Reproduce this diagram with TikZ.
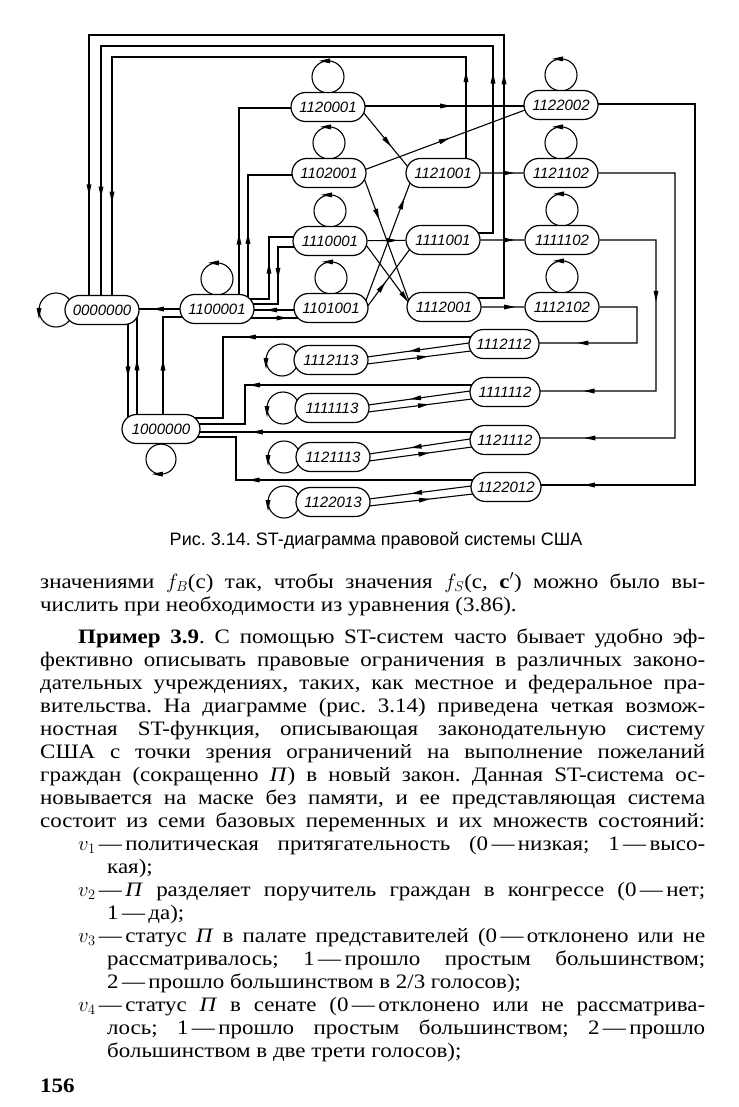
\documentclass[tikz,border=0pt]{standalone}
\usepackage{fontspec}
\setmainfont{Liberation Serif}
\newfontfamily\bodyfont[FakeStretch=1.12]{Liberation Serif}
\newfontfamily\capfont{Liberation Sans}
\newfontfamily\statefont{Liberation Sans}
\frenchspacing
\usetikzlibrary{calc, backgrounds, shapes.misc, shapes.geometric}
\tikzset{
  st state/.style={rounded rectangle, draw, fill=white, line width=1.2pt, minimum width=74pt, minimum height=29pt, inner sep=0pt, font=\statefont\itshape\fontsize{15}{15}\selectfont},
  flow/.style={line width=1.1pt},
  arrowtip/.style={isosceles triangle, isosceles triangle stretches, fill, draw=none, inner sep=0pt, minimum width=5pt, minimum height=11pt},
  arrowtip on/.style={arrowtip, sloped, allow upside down},
  text line/.style={anchor=base west, inner sep=0pt, font=\bodyfont\fontsize{20.5}{23}\selectfont},
}
\newcommand{\loopAbove}[1]{
  \draw[flow] ([yshift=15pt]#1.north) circle (16pt);
  \node[arrowtip, rotate=180] at ([yshift=31pt]#1.north) {};
}
\newcommand{\loopLeft}[1]{
  \draw[flow] ([xshift=-49pt]#1.center) circle (16pt);
  \node[arrowtip, rotate=-90] at ([xshift=-65pt]#1.center) {};
}

\begin{document}
\begin{tikzpicture}[x=1pt, y=1pt]
  \useasboundingbox (0,0) rectangle (738,-1107);
  % states
  \node[st state] (s1120001) at (328,-107) {1120001};
  \node[st state] (s1102001) at (329,-173) {1102001};
  \node[st state] (s1110001) at (330,-241) {1110001};
  \node[st state] (s1101001) at (331,-308) {1101001};
  \node[st state] (s0000000) at (102,-310) {0000000};
  \node[st state] (s1100001) at (217,-309) {1100001};
  \node[st state, minimum width=78pt] (s1000000) at (161,-429) {1000000};
  \node[st state] (s1121001) at (443,-173) {1121001};
  \node[st state] (s1111001) at (443,-240) {1111001};
  \node[st state] (s1112001) at (444,-307) {1112001};
  \node[st state] (s1122002) at (561,-105) {1122002};
  \node[st state] (s1121102) at (561,-173) {1121102};
  \node[st state] (s1111102) at (562,-240) {1111102};
  \node[st state] (s1112102) at (562,-307) {1112102};
  \node[st state, minimum width=70pt] (s1112112) at (504,-344) {1112112};
  \node[st state, minimum width=70pt] (s1111112) at (505,-392) {1111112};
  \node[st state, minimum width=70pt] (s1121112) at (505,-440) {1121112};
  \node[st state, minimum width=70pt] (s1122012) at (506,-487) {1122012};
  \node[st state] (s1112113) at (331,-360) {1112113};
  \node[st state] (s1111113) at (332,-408) {1111113};
  \node[st state] (s1121113) at (333,-457) {1121113};
  \node[st state] (s1122013) at (333,-502) {1122013};

  \begin{pgfonlayer}{background}
    % self loops
    \loopAbove{s1120001} \loopAbove{s1102001} \loopAbove{s1110001}
    \loopAbove{s1101001} \loopAbove{s1100001} \loopAbove{s1122002}
    \loopAbove{s1121102} \loopAbove{s1111102} \loopAbove{s1112102}
    \loopLeft{s1112113} \loopLeft{s1111113} \loopLeft{s1121113} \loopLeft{s1122013}
    \draw[flow] ([xshift=-46pt]s0000000.center) circle (17pt);
    \node[arrowtip, rotate=-90] at ([xshift=-63pt]s0000000.center) {};
    \draw[flow] ([yshift=-15pt]s1000000.south) circle (15pt);
    \node[arrowtip, rotate=180] at ([yshift=-30pt]s1000000.south) {};

    % long returns to 0000000
    \draw[flow] (466,0 |- s1121001.center) -- node[arrowtip on, pos=.8]{} (466,-57) -- (112,-57) -- node[arrowtip on, pos=.54]{} (112,0 |- s0000000.center);
    \draw[flow] (s1111001.center |- 0,-233) -- (493,-233) -- node[arrowtip on, pos=.81]{} (493,-46) -- (101,-46) -- node[arrowtip on, pos=.54]{} (101,0 |- s0000000.center);
    \draw[flow] (s1112001.center |- 0,-298) -- (504,-298) -- node[arrowtip on, pos=.82]{} (504,-35) -- (89,-35) -- node[arrowtip on, pos=.55]{} (89,0 |- s0000000.center);

    % around 1100001
    \draw[flow] (239,0 |- s1100001.center) -- node[arrowtip on, pos=.33]{} (239,-108) -- (s1120001.center |- 0,-108);
    \draw[flow] (248,0 |- s1100001.center) -- node[arrowtip on, pos=.5]{} (248,-175) -- (s1102001.center |- 0,-175);
    \draw[flow] (s1100001.center |- 0,-299) -- (269,-299) -- node[arrowtip on, pos=.44]{} (269,-237) -- (s1110001.center |- 0,-237);
    \draw[flow] (s1110001.center |- 0,-247) -- (278,-247) -- node[arrowtip on, pos=.4]{} (278,-304) -- (s1100001.center |- 0,-304);
    \draw[flow] (s1101001.center |- 0,-310) -- node[arrowtip on, pos=.49]{} (s1100001.center |- 0,-310);
    \draw[flow] (s1100001.center |- 0,-318) -- node[arrowtip on, pos=.54]{} (s1101001.center |- 0,-318);
    \draw[flow] (s1100001.center |- 0,-309) -- node[arrowtip on, pos=.48]{} (s0000000.center |- 0,-309);
    \draw[flow] (163,0 |- s1000000.center) -- node[arrowtip on, pos=.54]{} (163,-317) -- (s1100001.center |- 0,-317);
    \draw[flow] (128,0 |- s0000000.center) -- node[arrowtip on, pos=.49]{} (128,0 |- s1000000.center);
    \draw[flow] (137,0 |- s1000000.center) -- node[arrowtip on, pos=.51]{} (137,0 |- s0000000.center);

    % crossing block
    \draw[flow] ($(s1120001.center)+(35,-5)$) -- node[arrowtip on, pos=.5]{} ($(s1121001.center)+(-35,6)$);
    \draw[flow] ($(s1102001.center)+(35,3)$) -- node[arrowtip on, pos=.48]{} ($(s1122002.center)+(-36,-5)$);
    \draw[flow] ($(s1102001.center)+(35,-5)$) -- node[arrowtip on, pos=.27]{} ($(s1112001.center)+(-35,6)$);
    \draw[flow] (s1110001) -- node[arrowtip on, pos=.56]{} (s1111001);
    \draw[flow] ($(s1110001.center)+(36,-4)$) -- node[arrowtip on, pos=.85]{} ($(s1112001.center)+(-35,4)$);
    \draw[flow] ($(s1101001.center)+(36,1)$) -- node[arrowtip on, pos=.3]{} ($(s1111001.center)+(-33,-9)$);
    \draw[flow] ($(s1101001.center)+(34,5)$) -- node[arrowtip on, pos=.8]{} ($(s1121001.center)+(-33,-10)$);
    \draw[flow] (s1120001.center |- 0,-106) -- node[arrowtip on, pos=.49]{} (s1122002.center |- 0,-106);
    \draw[flow] (s1121001) -- node[arrowtip on, pos=.57]{} (s1121102);
    \draw[flow] (s1111001) -- node[arrowtip on, pos=.57]{} (s1111102);
    \draw[flow] (s1112001) -- node[arrowtip on, pos=.57]{} (s1112102);

    % right side down to the bottom states
    \draw[flow] (s1122002.center |- 0,-104) -- (695,-104) -- (695,-485) -- node[arrowtip on, pos=.54]{} (s1122012.center |- 0,-485);
    \draw[flow] (s1121102) -- (675,-173) -- (675,-438) -- node[arrowtip on, pos=.48]{} (s1121112.center |- 0,-438);
    \draw[flow] (s1111102) -- (656,-240) -- node[arrowtip on, pos=.35]{} (656,-391) -- node[arrowtip on, pos=.42]{} (s1111112.center |- 0,-391);
    \draw[flow] (s1112102) -- (637,-307) -- (637,-343) -- node[arrowtip on, pos=.38]{} (s1112112.center |- 0,-343);

    % bottom states back to 1000000
    \draw[flow] (s1112112.center |- 0,-337) -- node[arrowtip on, pos=.89]{} (223,-337) -- (223,-418) -- (s1000000.center |- 0,-418);
    \draw[flow] (s1111112.center |- 0,-385) -- node[arrowtip on, pos=.95]{} (245,-385) -- (245,-424) -- (s1000000.center |- 0,-424);
    \draw[flow] (s1121112.center |- 0,-432) -- node[arrowtip on, pos=.71]{} (s1000000.center |- 0,-432);
    \draw[flow] (s1122012.center |- 0,-480) -- node[arrowtip on, pos=.92]{} (236,-480) -- (236,-437) -- (s1000000.center |- 0,-437);

    % pairs
    \foreach \a/\b in {s1112112/s1112113, s1111112/s1111113, s1121112/s1121113, s1122012/s1122013}{
      \draw[flow] ($(\a.center)+(-35,1)$) -- node[arrowtip on, pos=.5]{} ($(\b.center)+(36,3)$);
      \draw[flow] ($(\b.center)+(36,-4)$) -- node[arrowtip on, pos=.5]{} ($(\a.center)+(-33,-7)$);
    }
  \end{pgfonlayer}

  % caption and page text
  \node[font=\capfont\fontsize{18}{18}\selectfont] (caption) at (376,-541) {Рис. 3.14. ST-диаграмма правовой системы США};
  \node[text line] (t01) at (40,-588) {\makebox[665pt][s]{значениями $f_B$(c) так, чтобы значения $f_S$(c, \textbf{c}$'$) можно было вы-}};
  \node[text line] (t02) at (40,-611) {числить при необходимости из уравнения (3.86).};
  \node[text line] (t03) at (78,-643) {\makebox[627pt][s]{\textbf{Пример 3.9}. С помощью ST-систем часто бывает удобно эф-}};
  \node[text line] (t04) at (40,-666) {\makebox[665pt][s]{фективно описывать правовые ограничения в различных законо-}};
  \node[text line] (t05) at (40,-689) {\makebox[665pt][s]{дательных учреждениях, таких, как местное и федеральное пра-}};
  \node[text line] (t06) at (40,-712) {\makebox[665pt][s]{вительства. На диаграмме (рис. 3.14) приведена четкая возмож-}};
  \node[text line] (t07) at (40,-735) {\makebox[665pt][s]{ностная ST-функция, описывающая законодательную систему}};
  \node[text line] (t08) at (40,-758) {\makebox[665pt][s]{США с точки зрения ограничений на выполнение пожеланий}};
  \node[text line] (t09) at (40,-781) {\makebox[665pt][s]{граждан (сокращенно \textit{П}) в новый закон. Данная ST-система ос-}};
  \node[text line] (t10) at (40,-804) {\makebox[665pt][s]{новывается на маске без памяти, и ее представляющая система}};
  \node[text line] (t11) at (40,-827) {\makebox[665pt][s]{состоит из семи базовых переменных и их множеств состояний:}};
  \node[text line] (t12) at (78,-850) {\makebox[627pt][s]{$v_1$\,—\,политическая притягательность (0\,—\,низкая; 1\,—\,высо-}};
  \node[text line] (t13) at (107,-873) {кая);};
  \node[text line] (t14) at (78,-896) {\makebox[627pt][s]{$v_2$\,—\,\textit{П} разделяет поручитель граждан в конгрессе (0\,—\,нет;}};
  \node[text line] (t15) at (107,-919) {1\,—\,да);};
  \node[text line] (t16) at (78,-942) {\makebox[627pt][s]{$v_3$\,—\,статус \textit{П} в палате представителей (0\,—\,отклонено или не}};
  \node[text line] (t17) at (107,-965) {\makebox[598pt][s]{рассматривалось; 1\,—\,прошло простым большинством;}};
  \node[text line] (t18) at (107,-988) {2\,—\,прошло большинством в 2/3 голосов);};
  \node[text line] (t19) at (78,-1011) {\makebox[627pt][s]{$v_4$\,—\,статус \textit{П} в сенате (0\,—\,отклонено или не рассматрива-}};
  \node[text line] (t20) at (107,-1034) {\makebox[598pt][s]{лось; 1\,—\,прошло простым большинством; 2\,—\,прошло}};
  \node[text line] (t21) at (107,-1057) {большинством в две трети голосов);};
  \node[text line] (t22) at (40,-1092) {\textbf{156}};
\end{tikzpicture}
\end{document}
